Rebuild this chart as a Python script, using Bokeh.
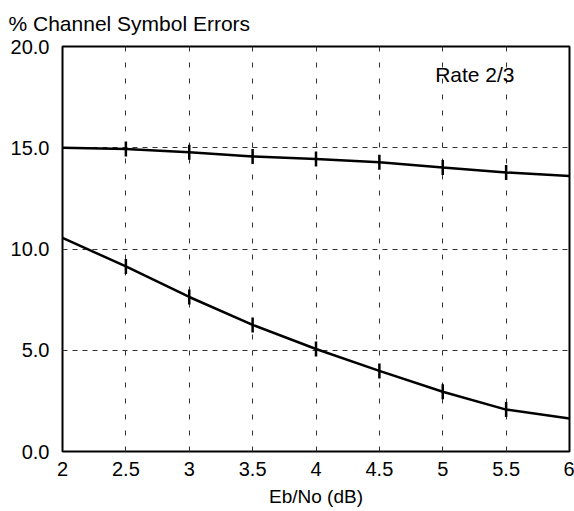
import numpy as np
from bokeh.plotting import figure
from bokeh.models import FixedTicker, Label
from bokeh.embed import file_html
from bokeh.resources import INLINE

# ---- data ----
ebno = [2.0, 2.5, 3.0, 3.5, 4.0, 4.5, 5.0, 5.5, 6.0]
upper_errors = [15.0, 14.94, 14.78, 14.57, 14.44, 14.28, 14.02, 13.78, 13.6]
lower_errors = [10.55, 9.14, 7.63, 6.25, 5.06, 3.98, 2.95, 2.07, 1.63]
x_ticks = [2.0, 2.5, 3.0, 3.5, 4.0, 4.5, 5.0, 5.5, 6.0]
x_tick_labels = ["2", "2.5", "3", "3.5", "4", "4.5", "5", "5.5", "6"]
y_ticks = [0, 5, 10, 15, 20]
y_tick_labels = ["0.0", "5.0", "10.0", "15.0", "20.0"]
x_grid = [2.5, 3.0, 3.5, 4.0, 4.5, 5.0, 5.5]
y_grid = [5, 10, 15]
title_text = "% Channel Symbol Errors"
x_label = "Eb/No (dB)"
annotation_text = "Rate 2/3"

FONT = "Liberation Sans"

p = figure(width=574, height=511, x_range=(2, 6), y_range=(0, 20),
           output_backend="svg", toolbar_location=None,
           min_border_left=62, min_border_right=5, min_border_top=46,
           min_border_bottom=60)

p.title.text = title_text
p.title.text_font = FONT
p.title.text_font_size = "21px"
p.title.text_font_style = "normal"
p.title.text_color = "black"
p.title.align = "left"
p.title.vertical_align = "top"
p.title.offset = -54
p.title.standoff = 19

p.outline_line_color = "black"
p.outline_line_width = 2
p.outline_line_alpha = 1.0
p.background_fill_color = "white"
p.border_fill_color = "white"

for ax in (p.xaxis[0], p.yaxis[0]):
    ax.axis_line_color = None
    ax.major_tick_line_color = None
    ax.minor_tick_line_color = None
    ax.major_label_text_font = FONT
    ax.major_label_text_font_size = "20px"
    ax.major_label_text_color = "black"

p.xaxis.ticker = FixedTicker(ticks=x_ticks)
p.xaxis.major_label_overrides = {t: s for t, s in zip(x_ticks, x_tick_labels)}
p.xaxis.major_label_standoff = 4
p.xaxis.axis_label = x_label
p.xaxis.axis_label_text_font = FONT
p.xaxis.axis_label_text_font_size = "19px"
p.xaxis.axis_label_text_font_style = "normal"
p.xaxis.axis_label_text_color = "black"
p.xaxis.axis_label_standoff = 7

p.yaxis.ticker = FixedTicker(ticks=y_ticks)
p.yaxis.major_label_overrides = {t: s for t, s in zip(y_ticks, y_tick_labels)}
p.yaxis.major_label_standoff = 7

p.xgrid.ticker = FixedTicker(ticks=x_grid)
p.xgrid.grid_line_color = "#333333"
p.xgrid.grid_line_dash = "5 11"
p.ygrid.ticker = FixedTicker(ticks=y_grid)
p.ygrid.grid_line_color = "#333333"
p.ygrid.grid_line_dash = "5 5"

for series in (upper_errors, lower_errors):
    p.line(ebno, series, line_color="black", line_width=2.5)
    p.scatter(ebno[1:-1], series[1:-1], marker="dash", angle=np.pi / 2,
              size=15, line_color="black", line_width=2.5)

p.add_layout(Label(x=4.94, y=18.64, text=annotation_text, text_font=FONT,
                   text_font_size="21px", text_baseline="middle",
                   text_align="left", text_color="black"))

open("out.html", "w").write(file_html(p, INLINE))
